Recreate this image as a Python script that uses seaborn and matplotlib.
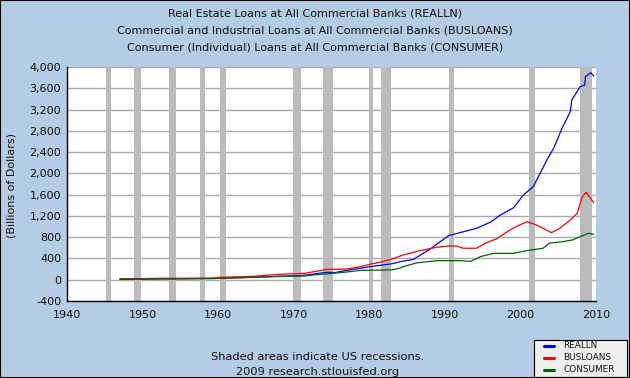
import numpy as np
import pandas as pd
import seaborn as sns
from matplotlib import pyplot as plt
from matplotlib.lines import Line2D

# values (billions of dollars)
realln_years = [1947.0, 1950.0, 1955.0, 1960.0, 1963.0, 1965.0, 1968.0, 1970.0, 1971.5, 1973.0,
                1974.4, 1975.5, 1977.0, 1978.8, 1980.5, 1981.4, 1983.0, 1984.1, 1985.8, 1988.0,
                1990.5, 1992.0, 1994.2, 1996.0, 1997.3, 1999.1, 2000.4, 2001.7, 2002.6, 2003.5,
                2004.4, 2005.5, 2006.6, 2006.8, 2007.9, 2008.5, 2008.6, 2009.3, 2009.7]
realln = [9, 13, 20, 28, 38, 49, 65, 72, 85, 115,
          140, 135, 175, 215, 255, 270, 300, 340, 380, 573,
          829, 885, 967, 1080, 1212, 1355, 1594, 1750, 2001, 2252,
          2472, 2848, 3160, 3380, 3630, 3660, 3818, 3893, 3831]

busloans_years = [1947.0, 1950.0, 1952.0, 1959.0, 1960.2, 1964.9, 1966.4, 1968.8, 1971.5, 1973.0,
                  1974.4, 1977.0, 1978.8, 1980.5, 1981.4, 1983.0, 1984.5, 1986.7, 1988.9, 1990.5,
                  1991.5, 1992.4, 1994.2, 1995.5, 1996.8, 1998.6, 1999.9, 2000.9, 2002.1, 2004.1,
                  2005.2, 2006.6, 2007.5, 2008.2, 2008.7, 2009.7]
busloans = [18, 20, 27, 27, 45, 65, 85, 105, 120, 160,
            195, 200, 245, 305, 328, 390, 465, 546, 610, 635,
            635, 592, 592, 697, 766, 935, 1030, 1092, 1030, 885,
            967, 1124, 1250, 1562, 1644, 1449]

consumer_years = [1947.0, 1951.0, 1959.0, 1960.5, 1965.0, 1968.0, 1971.5, 1973.0, 1974.4, 1977.0,
                  1978.8, 1980.5, 1983.0, 1984.1, 1984.5, 1986.2, 1988.9, 1992.0, 1993.4, 1994.7,
                  1996.5, 1999.1, 2000.8, 2003.0, 2003.8, 2005.6, 2006.9, 2007.9, 2009.0, 2009.7]
consumer = [10, 13, 20, 27, 48, 60, 70, 95, 110, 145,
            175, 180, 184, 220, 246, 315, 359, 359, 345, 434,
            497, 497, 546, 592, 685, 716, 748, 810, 873, 855]

series_names = ['REALLN', 'BUSLOANS', 'CONSUMER']
series_colors = ['#0000ff', '#ff0000', '#006400']

# NBER recessions (start, end)
recessions = [(1945.1, 1945.8), (1948.9, 1949.8), (1953.5, 1954.4), (1957.6, 1958.3),
              (1960.3, 1961.1), (1969.9, 1970.9), (1973.9, 1975.2), (1980.0, 1980.5),
              (1981.5, 1982.9), (1990.5, 1991.2), (2001.2, 2001.9), (2007.9, 2009.5)]

bg = '#b4cce4'
sns.set_style('white')
plt.rcParams['font.family'] = ['DejaVu Sans']

W, H = 630, 378
fig = plt.figure(figsize=(6.3, 3.78), dpi=100, facecolor=bg)
ax = fig.add_axes([67 / W, 1 - 301 / H, 529 / W, 234 / H])
ax.set_facecolor('white')

for s, e in recessions:
    ax.axvspan(s, e, color='#bbbbbb', lw=0, zorder=1)

for v in range(-400, 4001, 400):
    ax.axhline(v, color='#aaaaaa', lw=1.0, zorder=0.5)

sns.lineplot(x=realln_years, y=realln, color=series_colors[0], lw=0.9, ax=ax, zorder=3)
sns.lineplot(x=busloans_years, y=busloans, color=series_colors[1], lw=0.9, ax=ax, zorder=4)
sns.lineplot(x=consumer_years, y=consumer, color=series_colors[2], lw=0.9, ax=ax, zorder=5)

ax.set_xlim(1940, 2010)
ax.set_ylim(-400, 4000)
ax.set_xticks(range(1940, 2011, 10))
ax.set_yticks(range(-400, 4001, 400))
ax.set_yticklabels([f'{v:,}' for v in range(-400, 4001, 400)])
ax.tick_params(axis='x', direction='in', length=4, width=0.8, labelsize=8, pad=6.5, colors='black')
ax.tick_params(axis='y', direction='out', length=3.6, width=0.8, labelsize=8, pad=0.6, colors='black')
for lab in ax.get_xticklabels() + ax.get_yticklabels():
    lab.set_color('#111111')
for side in ['top', 'right']:
    ax.spines[side].set_visible(False)
for side in ['left', 'bottom']:
    ax.spines[side].set_color('black')
    ax.spines[side].set_linewidth(1.0)
fig.text(12 / W, 1 - 185 / H, '(Billions of Dollars)', rotation=90, ha='center', va='center',
         fontsize=8, color='#111111')

titles = ['Real Estate Loans at All Commercial Banks (REALLN)',
          'Commercial and Industrial Loans at All Commercial Banks (BUSLOANS)',
          'Consumer (Individual) Loans at All Commercial Banks (CONSUMER)']
for i, t in enumerate(titles):
    fig.text(0.5, 1 - (14 + 16.5 * i) / H, t, ha='center', va='center', fontsize=8, color='#111111')

fig.text(318 / W, 1 - 357 / H, 'Shaded areas indicate US recessions.', ha='center', va='center',
         fontsize=8.2, color='#111111')
fig.text(318 / W, 1 - 372 / H, '2009 research.stlouisfed.org', ha='center', va='center',
         fontsize=8.2, color='#111111')

# legend box drawn in figure pixel coordinates
fig.patches.append(plt.Rectangle((534 / W, 1 - 377 / H), 93 / W, 37 / H, transform=fig.transFigure,
                                 facecolor='#eeeeee', edgecolor='black', lw=0.8))
for i, (name, c) in enumerate(zip(series_names, series_colors)):
    yy = 1 - (346 + 12 * i) / H
    fig.lines.append(Line2D([544 / W, 554 / W], [yy, yy], transform=fig.transFigure, color=c, lw=2.2))
    fig.text(563 / W, yy, name, ha='left', va='center', fontsize=6.4, color='#111111')

fig.patches.append(plt.Rectangle((0, 0), 1, 1, transform=fig.transFigure, fill=False,
                                 edgecolor='black', lw=1.5))

fig.savefig('out.png', dpi=100, facecolor=bg)
